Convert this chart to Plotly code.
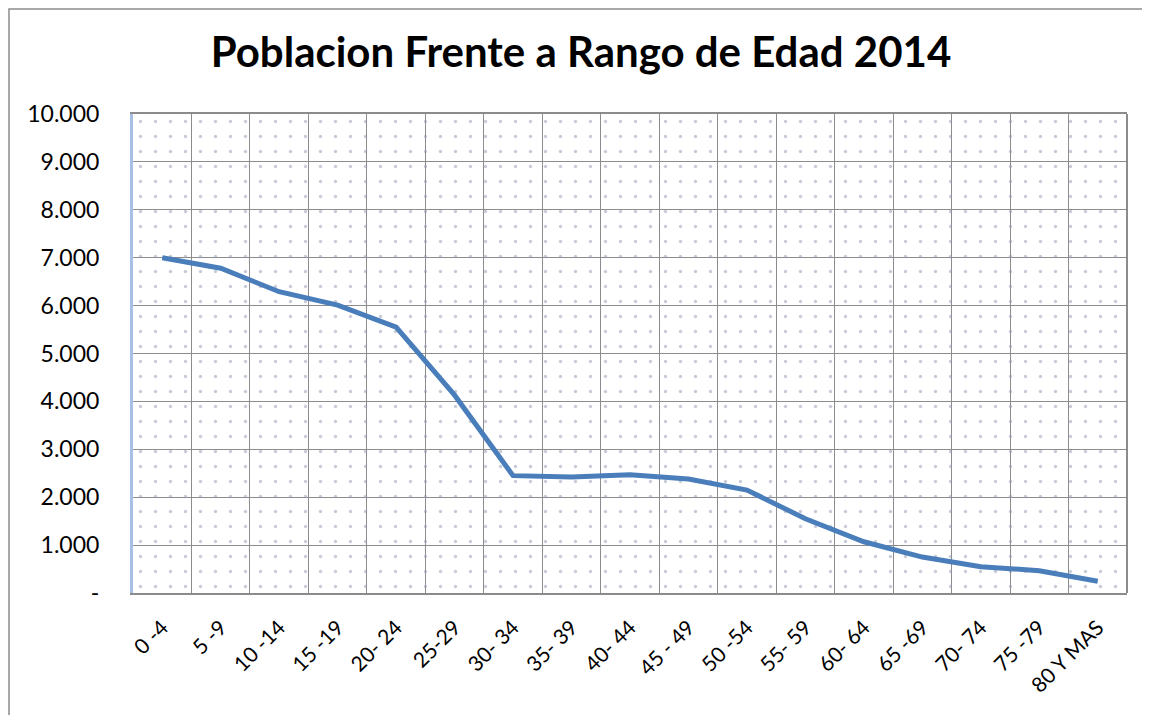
import plotly.graph_objects as go

categories = ["0 -4", "5 -9", "10 -14", "15 -19", "20- 24", "25-29", "30- 34", "35- 39",
              "40- 44", "45 - 49", "50 -54", "55- 59", "60- 64", "65 -69", "70- 74",
              "75 -79", "80 Y MAS"]
poblacion = [7000, 6780, 6290, 6010, 5550, 4130, 2450, 2420, 2470, 2380, 2150,
             1550, 1070, 750, 550, 465, 245]
y_tickvals = [0, 1000, 2000, 3000, 4000, 5000, 6000, 7000, 8000, 9000, 10000]
y_ticktext = ["-", "1.000", "2.000", "3.000", "4.000", "5.000", "6.000", "7.000",
              "8.000", "9.000", "10.000"]
title_text = "Poblacion Frente a Rango de Edad 2014"

OFF = 8  # page body margin
W, H = 1150 - OFF, 715 - OFF
L, R, T, B = 133 - OFF, 1127 - OFF, 114 - OFF, 593 - OFF
pw, ph = R - L, B - T
FONT = "Lato"
y_max = y_tickvals[-1]

fig = go.Figure()
# dotted background texture
fig.add_trace(go.Bar(
    x=categories, y=[y_max] * len(categories), width=1,
    marker=dict(color="rgba(0,0,0,0)", line=dict(width=0),
                pattern=dict(shape=".", size=15, solidity=0.04,
                             fgcolor="#8f95b0", bgcolor="rgba(0,0,0,0)")),
    hoverinfo="skip", showlegend=False))
fig.add_trace(go.Scatter(
    x=categories, y=poblacion, mode="lines",
    line=dict(color="#4A7EBB", width=5), showlegend=False))

fig.update_layout(
    width=W, height=H,
    margin=dict(l=L, r=W - R, t=T, b=H - B),
    paper_bgcolor="white", plot_bgcolor="white",
    title=dict(text=f"<b>{title_text}</b>", x=(581 - OFF) / W, xanchor="center",
               y=1 - (52 - OFF) / H, yanchor="middle", yref="container",
               font=dict(family=FONT, size=42, color="black")),
    font=dict(family=FONT, color="black"),
    bargap=0,
)
fig.update_xaxes(
    type="category", range=[-0.5, len(categories) - 0.5],
    tickson="boundaries", showgrid=True, gridcolor="#8c8c8c", gridwidth=1.3,
    showline=True, linecolor="#8c8c8c", linewidth=2, mirror=True,
    tickangle=-45, ticks="", ticklabelstandoff=12,
    tickfont=dict(family=FONT, size=21, color="black"))
fig.update_yaxes(
    range=[0, y_max], tickvals=y_tickvals, ticktext=y_ticktext,
    showgrid=True, gridcolor="#8c8c8c", gridwidth=1.3, zeroline=False,
    showline=True, linecolor="#a9c0e6", linewidth=3,
    ticks="", ticklabelstandoff=26,
    tickfont=dict(family=FONT, size=23, color="black"))

# right border of plot area
fig.add_shape(type="line", xref="paper", yref="paper", x0=1, x1=1, y0=0, y1=1,
              line=dict(color="#8c8c8c", width=2))
# outer chart border
fig.add_shape(type="rect", xref="paper", yref="paper",
              x0=(1 - L) / pw, x1=(W + 20 - L) / pw,
              y0=-(H + 20 - B) / ph, y1=1 + (T - 1) / ph,
              line=dict(color="#8c8c8c", width=1.5), fillcolor="rgba(0,0,0,0)")

fig.write_html("out.html")
